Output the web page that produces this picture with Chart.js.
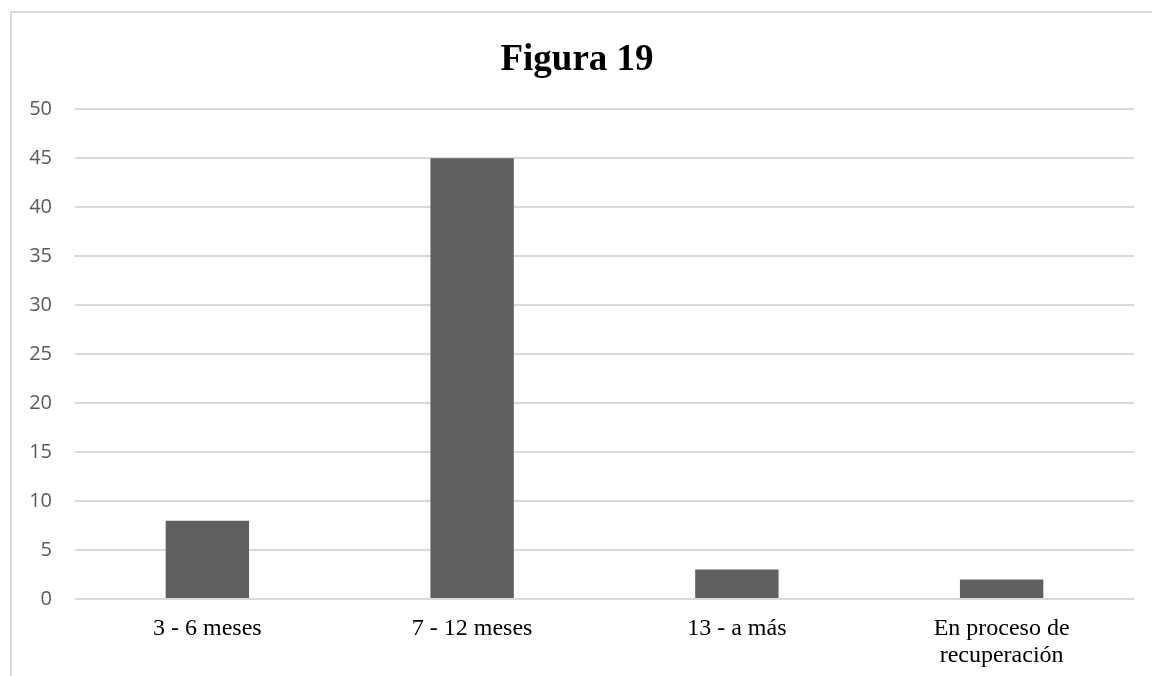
<!DOCTYPE html>
<html>
<head>
<meta charset="utf-8">
<script src="https://cdn.jsdelivr.net/npm/chart.js"></script>
<style>
  html, body { margin: 0; padding: 0; background: #fff; overflow: hidden; }
  #frame {
    position: absolute; left: 10px; top: 11px;
    width: 1150px; height: 670px;
    border-left: 2px solid #d9d9d9; border-top: 2px solid #d9d9d9;
  }
</style>
</head>
<body>
<div id="frame"><canvas id="bar-chart" width="1140" height="663"></canvas></div>
<script>
var categories = ["3 - 6 meses", "7 - 12 meses", "13 - a más", ["En proceso de", "recuperación"]];
var values = [8, 45, 3, 2];
var yTicks = [0, 5, 10, 15, 20, 25, 30, 35, 40, 45, 50];

new Chart(document.getElementById("bar-chart"), {
  type: 'bar',
  data: {
    labels: categories,
    datasets: [{
      label: "Figura 19",
      backgroundColor: "#606060",
      data: values,
      categoryPercentage: 1,
      barPercentage: 0.315
    }]
  },
  options: {
    responsive: false,
    animation: false,
    layout: { padding: { left: 8, right: 18, top: 0, bottom: 0 } },
    plugins: {
      legend: { display: false },
      tooltip: { enabled: false },
      title: {
        display: true,
        text: 'Figura 19',
        color: '#000',
        font: { family: 'Liberation Serif', size: 37, weight: 'bold' },
        padding: { top: 25, bottom: 27 }
      }
    },
    scales: {
      x: {
        grid: { display: false },
        border: { display: false },
        afterFit: function (axis) { axis.height = 77; },
        ticks: {
          color: '#000',
          font: { family: 'Liberation Serif', size: 24, lineHeight: 1.125 },
          padding: 8,
          maxRotation: 0
        }
      },
      y: {
        min: 0, max: 50,
        afterBuildTicks: function (axis) {
          axis.ticks = yTicks.map(function (v) { return { value: v }; });
        },
        afterFit: function (axis) { axis.width = 55; },
        grid: { color: '#d9d9d9', lineWidth: 2, drawTicks: false },
        border: { display: false },
        ticks: {
          color: '#595959',
          font: { family: 'Open Sans', size: 20 },
          padding: 23
        }
      }
    }
  }
});
</script>
</body>
</html>
